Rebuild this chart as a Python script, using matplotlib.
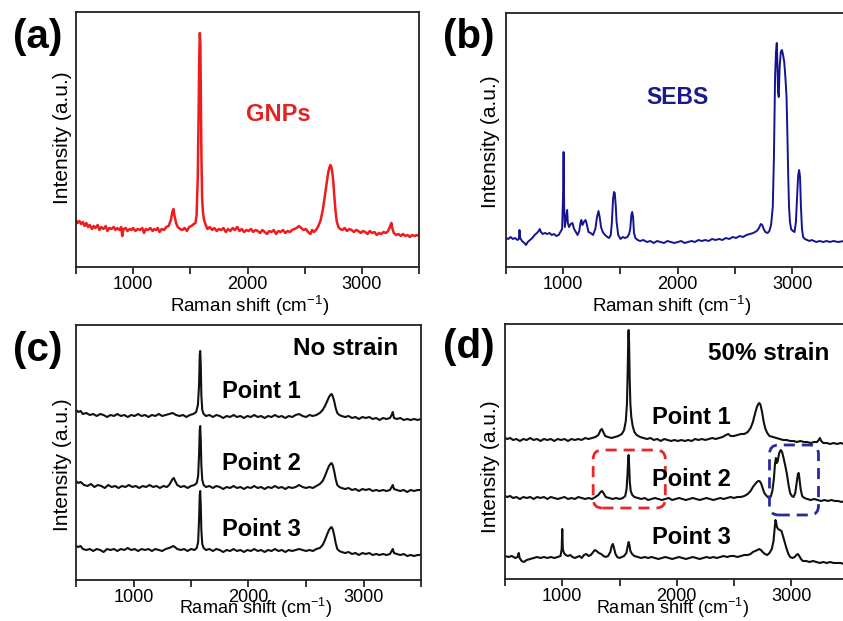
import matplotlib
matplotlib.use('Agg')
import matplotlib.pyplot as plt
from matplotlib.ticker import MultipleLocator
from matplotlib.patches import FancyBboxPatch
import numpy as np

plt.rcParams['font.family'] = ['Liberation Sans', 'DejaVu Sans']
plt.rcParams['mathtext.fontset'] = 'custom'
plt.rcParams['mathtext.rm'] = 'Liberation Sans'
plt.rcParams['mathtext.it'] = 'Liberation Sans'

# ---- data (Raman shift in cm-1, intensity in a.u.) ----
# (a) GNPs
gnp_x = [500, 515, 530, 545, 560, 575, 590, 605, 620, 640, 655, 670, 690, 705, 720, 740, 760, 775, 790, 810,
         830, 845, 860, 880, 895, 905, 915, 935, 950, 970, 985, 1000, 1020, 1040, 1060, 1080, 1095, 1110, 1130,
         1150, 1170, 1185, 1200, 1215, 1230, 1250, 1270, 1290, 1310, 1330, 1345, 1352, 1362, 1375, 1390, 1410,
         1430, 1450, 1470, 1490, 1510, 1530, 1545, 1555, 1565, 1572, 1578, 1583, 1588, 1592, 1597, 1603, 1610,
         1620, 1635, 1650, 1670, 1690, 1710, 1730, 1750, 1770, 1790, 1810, 1830, 1850, 1870, 1890, 1910, 1930,
         1950, 1970, 1990, 2010, 2030, 2050, 2070, 2090, 2110, 2130, 2150, 2170, 2190, 2210, 2230, 2250, 2270,
         2290, 2310, 2330, 2350, 2370, 2390, 2410, 2430, 2450, 2470, 2490, 2510, 2530, 2550, 2565, 2580, 2600,
         2620, 2640, 2660, 2675, 2690, 2705, 2715, 2725, 2733, 2740, 2750, 2760, 2770, 2780, 2795, 2810, 2830,
         2850, 2870, 2890, 2910, 2930, 2950, 2970, 2990, 3010, 3030, 3050, 3070, 3090, 3110, 3130, 3150, 3170,
         3190, 3210, 3230, 3245, 3258, 3268, 3280, 3300, 3320, 3340, 3360, 3380, 3400, 3420, 3440, 3460, 3480, 3500]
gnp_y = [47, 44, 46, 43, 45, 41, 44, 40, 42, 38, 41, 39, 42, 37, 40, 38, 41, 36, 39, 38,
         40, 37, 39, 37, 40, 31, 38, 39, 36, 38, 37, 39, 36, 38, 37, 39, 34, 38, 37,
         39, 36, 38, 37, 39, 35, 38, 37, 40, 41, 47, 56, 58, 51, 44, 40, 38,
         37, 39, 36, 40, 41, 43, 44, 52, 90, 150, 210, 234, 222, 170, 110, 70, 55,
         47, 42, 38, 40, 37, 39, 36, 38, 37, 39, 35, 38, 36, 39, 37, 40, 36,
         38, 35, 37, 36, 38, 35, 37, 36, 34, 37, 35, 33, 36, 35, 37, 33, 36,
         35, 37, 34, 36, 35, 37, 38, 39, 41, 39, 37, 38, 35, 33, 37, 35, 37,
         41, 47, 58, 70, 82, 94, 99, 102, 100, 96, 86, 70, 56, 46, 40, 38, 37,
         39, 36, 38, 37, 35, 37, 36, 34, 36, 35, 33, 36, 34, 35, 32, 34, 33,
         35, 34, 36, 40, 44, 38, 34, 32, 33, 31, 33, 31, 32, 30, 32, 31, 32, 31]

# (b) SEBS
sebs_x = [500, 520, 540, 560, 580, 600, 612, 618, 624, 640, 660, 675, 690, 710, 730, 750, 770, 785, 795, 805,
          820, 840, 860, 880, 900, 920, 940, 960, 975, 990, 998, 1003, 1008, 1014, 1020, 1028, 1034, 1040, 1050,
          1065, 1080, 1095, 1110, 1125, 1140, 1150, 1158, 1168, 1180, 1195, 1205, 1220, 1240, 1260, 1280, 1295,
          1308, 1318, 1330, 1345, 1365, 1385, 1400, 1415, 1425, 1435, 1443, 1450, 1458, 1466, 1480, 1500, 1520,
          1540, 1560, 1575, 1585, 1595, 1602, 1610, 1618, 1630, 1650, 1670, 1700, 1730, 1760, 1790, 1820, 1850,
          1880, 1910, 1940, 1970, 2000, 2030, 2060, 2090, 2120, 2150, 2180, 2210, 2240, 2270, 2300, 2330, 2360,
          2390, 2420, 2450, 2480, 2510, 2540, 2570, 2600, 2630, 2660, 2690, 2710, 2725, 2738, 2750, 2765, 2785,
          2800, 2815, 2830, 2840, 2850, 2858, 2865, 2870, 2876, 2882, 2890, 2900, 2910, 2920, 2930, 2940, 2950,
          2958, 2965, 2972, 2980, 2990, 3005, 3020, 3032, 3042, 3052, 3060, 3068, 3076, 3085, 3095, 3110, 3130,
          3150, 3170, 3190, 3210, 3240, 3270, 3300, 3330, 3360, 3400, 3450, 3500]
sebs_y = [29, 28, 30, 28, 29, 27, 28, 37, 29, 26, 24, 22, 25, 27, 29, 32, 34, 36, 38, 35,
          33, 34, 33, 34, 32, 33, 31, 32, 35, 38, 70, 115, 60, 40, 45, 52, 57, 44, 40,
          43, 44, 38, 35, 32, 36, 44, 47, 42, 45, 47, 43, 35, 34, 32, 38, 50,
          56, 50, 40, 35, 32, 30, 29, 32, 45, 68, 75, 74, 62, 45, 32, 28, 30,
          29, 30, 33, 38, 52, 55, 50, 34, 29, 27, 26, 27, 25, 26, 24, 26, 25,
          24, 26, 25, 24, 25, 26, 24, 25, 26, 25, 27, 26, 27, 26, 28, 27, 28,
          27, 29, 28, 30, 29, 31, 30, 32, 33, 34, 36, 39, 43, 42, 38, 35, 34,
          36, 42, 60, 110, 190, 215, 224, 205, 175, 170, 200, 215, 217, 212, 205, 190, 170,
          130, 90, 60, 45, 38, 36, 35, 45, 70, 92, 97, 90, 60, 38, 30, 28, 27,
          26, 27, 26, 25, 26, 25, 26, 25, 26, 25, 26, 25]

# (c) no strain, points 1-3
c1_x = [500, 520, 540, 560, 590, 620, 650, 680, 710, 740, 770, 800, 830, 860, 890, 920, 950, 980, 1010, 1040,
        1070, 1100, 1130, 1160, 1190, 1220, 1250, 1280, 1310, 1340, 1370, 1400, 1430, 1460, 1490, 1520, 1545,
        1560, 1570, 1576, 1580, 1585, 1590, 1598, 1610, 1630, 1660, 1690, 1720, 1750, 1780, 1810, 1840, 1870,
        1900, 1930, 1960, 1990, 2020, 2050, 2080, 2110, 2140, 2170, 2200, 2230, 2260, 2290, 2320, 2350, 2380,
        2410, 2440, 2470, 2500, 2530, 2560, 2590, 2620, 2645, 2665, 2685, 2700, 2712, 2722, 2732, 2745, 2758,
        2772, 2790, 2810, 2840, 2870, 2900, 2930, 2960, 2990, 3020, 3050, 3080, 3110, 3140, 3170, 3200, 3230,
        3245, 3255, 3265, 3290, 3320, 3350, 3380, 3410, 3440, 3470, 3500]
c1_y = [170, 168, 169, 166, 167, 165, 166, 164, 166, 165, 163, 165, 164, 166, 164, 165, 163, 165, 164, 166,
        164, 165, 163, 165, 164, 166, 164, 165, 166, 167, 165, 164, 165, 163, 165, 166, 168,
        175, 195, 225, 229, 215, 185, 170, 166, 164, 165, 163, 165, 164, 162, 164, 163, 165,
        163, 164, 162, 164, 163, 165, 163, 164, 162, 164, 163, 165, 163, 164, 162, 164, 163,
        165, 166, 164, 163, 165, 164, 165, 167, 170, 174, 179, 183, 185, 186, 184, 179, 172,
        167, 165, 164, 163, 164, 162, 163, 161, 163, 162, 163, 161, 162, 160, 162, 161, 162,
        165, 168, 162, 161, 162, 160, 161, 160, 161, 160, 161]
c2_x = [500, 520, 540, 570, 600, 630, 660, 690, 720, 750, 780, 810, 840, 870, 900, 930, 960, 990, 1020, 1050,
        1080, 1110, 1140, 1170, 1200, 1230, 1260, 1290, 1310, 1325, 1340, 1350, 1362, 1380, 1410, 1440, 1470,
        1500, 1530, 1550, 1562, 1570, 1576, 1580, 1585, 1590, 1598, 1610, 1630, 1660, 1690, 1720, 1750, 1780,
        1810, 1840, 1870, 1900, 1930, 1960, 1990, 2020, 2050, 2080, 2110, 2140, 2170, 2200, 2230, 2260, 2290,
        2320, 2350, 2380, 2410, 2440, 2470, 2500, 2530, 2560, 2590, 2620, 2645, 2665, 2685, 2700, 2712, 2722,
        2732, 2745, 2758, 2772, 2790, 2810, 2840, 2870, 2900, 2930, 2960, 2990, 3020, 3050, 3080, 3110, 3140,
        3170, 3200, 3230, 3245, 3255, 3265, 3290, 3320, 3350, 3380, 3410, 3440, 3470, 3500]
c2_y = [99, 97, 98, 95, 94, 96, 93, 95, 94, 92, 95, 93, 94, 92, 94, 93, 95, 93, 94, 92,
        94, 93, 95, 93, 94, 92, 94, 93, 95, 98, 101, 102, 99, 95, 93, 94, 92,
        94, 95, 97, 104, 125, 150, 154, 140, 115, 100, 95, 93, 94, 92, 94, 93, 91,
        93, 92, 94, 92, 93, 91, 93, 92, 94, 92, 93, 91, 93, 92, 94, 92, 93,
        91, 93, 92, 93, 95, 93, 92, 93, 92, 94, 96, 99, 104, 110, 114, 116, 117,
        115, 109, 101, 95, 93, 92, 91, 92, 90, 91, 89, 91, 90, 91, 89, 90, 89,
        90, 89, 90, 93, 95, 91, 90, 89, 90, 88, 90, 89, 90, 90]
c3_x = [500, 520, 540, 560, 590, 620, 650, 680, 710, 740, 770, 800, 830, 860, 890, 920, 950, 980, 1010, 1040,
        1070, 1100, 1130, 1160, 1190, 1220, 1250, 1280, 1310, 1330, 1345, 1360, 1380, 1410, 1440, 1470, 1500,
        1530, 1550, 1562, 1570, 1576, 1580, 1585, 1590, 1598, 1610, 1630, 1660, 1690, 1720, 1750, 1780, 1810,
        1840, 1870, 1900, 1930, 1960, 1990, 2020, 2050, 2080, 2110, 2140, 2170, 2200, 2230, 2260, 2290, 2320,
        2350, 2380, 2410, 2440, 2470, 2500, 2530, 2560, 2590, 2620, 2645, 2665, 2685, 2700, 2712, 2722, 2732,
        2745, 2758, 2772, 2790, 2810, 2840, 2870, 2900, 2930, 2960, 2990, 3020, 3050, 3080, 3110, 3140, 3170,
        3200, 3230, 3245, 3255, 3265, 3290, 3320, 3350, 3380, 3410, 3440, 3470, 3500]
c3_y = [34, 33, 34, 31, 30, 31, 29, 31, 30, 28, 31, 30, 31, 29, 31, 30, 32, 30, 31, 29,
        31, 30, 31, 29, 31, 30, 29, 31, 32, 33, 34, 33, 31, 30, 31, 29, 31,
        30, 32, 38, 60, 85, 89, 75, 50, 36, 32, 30, 31, 29, 31, 30, 28, 30,
        29, 31, 29, 30, 28, 30, 29, 31, 29, 30, 28, 30, 29, 31, 29, 30, 28,
        30, 29, 30, 31, 30, 29, 30, 29, 31, 32, 35, 40, 46, 50, 52, 53, 51,
        45, 37, 31, 29, 28, 27, 28, 26, 27, 25, 27, 26, 27, 25, 26, 25, 26,
        25, 26, 29, 31, 27, 26, 25, 26, 24, 25, 24, 25, 25]

# (d) 50% strain, points 1-3
d1_x = [500, 520, 545, 570, 600, 630, 660, 690, 720, 750, 780, 810, 840, 870, 900, 930, 960, 990, 1020, 1050,
        1080, 1110, 1140, 1170, 1200, 1230, 1260, 1290, 1315, 1335, 1346, 1358, 1375, 1400, 1430, 1460, 1490,
        1520, 1540, 1555, 1565, 1572, 1577, 1580, 1584, 1589, 1595, 1603, 1615, 1630, 1650, 1680, 1710, 1740,
        1770, 1800, 1830, 1860, 1890, 1920, 1950, 1980, 2010, 2040, 2070, 2100, 2130, 2160, 2190, 2220, 2250,
        2280, 2310, 2340, 2370, 2400, 2430, 2450, 2470, 2500, 2530, 2560, 2590, 2620, 2645, 2665, 2685, 2700,
        2712, 2722, 2732, 2745, 2758, 2772, 2790, 2810, 2840, 2870, 2900, 2930, 2960, 2990, 3020, 3050, 3080,
        3110, 3140, 3170, 3200, 3225, 3240, 3250, 3262, 3280, 3310, 3340, 3370, 3400, 3430, 3460, 3500]
d1_y = [141, 140, 141, 139, 140, 138, 140, 139, 141, 139, 140, 138, 140, 139, 140, 138, 140, 139, 140, 138,
        140, 139, 140, 139, 141, 140, 141, 142, 144, 149, 150, 147, 143, 142, 141, 142, 143,
        145, 149, 158, 175, 210, 245, 249, 235, 200, 175, 162, 153, 147, 144, 142, 141, 140,
        141, 139, 140, 138, 140, 139, 138, 139, 138, 139, 138, 139, 138, 140, 139, 140, 139,
        140, 141, 140, 141, 142, 144, 145, 143, 143, 144, 145, 145, 147, 151, 157, 166, 172,
        175, 176, 174, 167, 158, 151, 146, 143, 142, 141, 140, 139, 139, 138, 138, 137, 138,
        137, 137, 136, 137, 137, 139, 141, 138, 136, 136, 135, 136, 135, 136, 135, 135]
d2_x = [500, 520, 545, 570, 600, 630, 660, 690, 720, 750, 780, 810, 840, 870, 900, 930, 960, 990, 1020, 1050,
        1080, 1110, 1140, 1170, 1200, 1230, 1260, 1290, 1315, 1335, 1347, 1360, 1380, 1410, 1440, 1470, 1500,
        1530, 1550, 1562, 1570, 1576, 1580, 1585, 1590, 1598, 1612, 1630, 1660, 1690, 1720, 1750, 1780, 1810,
        1840, 1870, 1900, 1930, 1960, 1990, 2020, 2050, 2080, 2110, 2140, 2170, 2200, 2230, 2260, 2290, 2320,
        2350, 2380, 2410, 2440, 2470, 2500, 2530, 2560, 2590, 2620, 2645, 2665, 2685, 2700, 2712, 2722, 2735,
        2750, 2765, 2785, 2805, 2820, 2835, 2848, 2858, 2866, 2874, 2882, 2895, 2908, 2920, 2935, 2950, 2962,
        2975, 2990, 3005, 3020, 3035, 3048, 3058, 3065, 3072, 3082, 3095, 3115, 3140, 3170, 3200, 3230, 3260,
        3290, 3320, 3350, 3380, 3410, 3440, 3470, 3500]
d2_y = [83, 82, 83, 81, 82, 80, 82, 81, 82, 80, 82, 81, 82, 80, 82, 81, 80, 81, 82, 80,
        81, 80, 82, 81, 80, 81, 80, 82, 84, 87, 88, 86, 82, 81, 80, 81, 80,
        81, 83, 90, 105, 120, 124, 112, 97, 88, 84, 82, 81, 80, 81, 79, 80, 81,
        80, 79, 80, 81, 79, 80, 81, 80, 79, 80, 81, 80, 79, 80, 81, 80, 79,
        80, 81, 80, 81, 82, 81, 82, 82, 83, 85, 88, 92, 95, 97, 98, 98, 96,
        91, 86, 83, 81, 82, 88, 100, 115, 121, 116, 118, 126, 129, 127, 120, 112, 105,
        95, 86, 83, 82, 86, 97, 105, 106, 100, 90, 83, 81, 80, 79, 80, 79, 78,
        79, 78, 79, 78, 78, 77, 78, 78]
d3_x = [500, 530, 560, 590, 610, 620, 628, 645, 665, 690, 720, 750, 780, 810, 840, 870, 900, 930, 960, 985,
        995, 1000, 1005, 1015, 1030, 1050, 1070, 1090, 1110, 1130, 1150, 1170, 1190, 1210, 1230, 1250, 1270,
        1285, 1300, 1320, 1340, 1360, 1380, 1400, 1420, 1432, 1442, 1452, 1465, 1480, 1500, 1520, 1540, 1560,
        1572, 1580, 1587, 1595, 1610, 1630, 1660, 1690, 1720, 1750, 1780, 1810, 1840, 1870, 1900, 1930, 1960,
        1990, 2020, 2050, 2080, 2110, 2140, 2170, 2200, 2230, 2260, 2290, 2320, 2350, 2380, 2410, 2440, 2470,
        2500, 2530, 2560, 2590, 2620, 2645, 2665, 2685, 2705, 2720, 2735, 2750, 2770, 2790, 2810, 2830, 2845,
        2855, 2862, 2868, 2875, 2885, 2900, 2915, 2930, 2945, 2960, 2975, 2990, 3010, 3030, 3045, 3058, 3070,
        3085, 3100, 3130, 3160, 3190, 3220, 3250, 3280, 3310, 3340, 3370, 3400, 3430, 3460, 3500]
d3_y = [23, 22, 23, 21, 22, 26, 21, 18, 17, 19, 20, 21, 22, 21, 22, 21, 22, 21, 22, 23,
        30, 50, 30, 26, 24, 23, 24, 22, 21, 22, 23, 21, 24, 25, 23, 24, 27,
        29, 28, 26, 25, 23, 22, 23, 27, 33, 35, 31, 25, 22, 21, 22, 23, 26,
        33, 37, 34, 28, 25, 23, 22, 21, 22, 21, 22, 21, 20, 21, 22, 21, 20,
        21, 22, 21, 20, 21, 22, 21, 20, 21, 22, 21, 22, 21, 22, 23, 22, 23,
        23, 22, 23, 24, 24, 25, 27, 28, 29, 30, 29, 27, 25, 24, 26, 30, 38,
        50, 59, 57, 52, 50, 49, 48, 42, 36, 30, 25, 22, 21, 22, 24, 25, 23,
        20, 18, 18, 17, 18, 17, 16, 17, 16, 17, 16, 16, 16, 15, 16]

W, H = 843, 621
fig = plt.figure(figsize=(W / 100, H / 100), dpi=100)


def fx(x):
    return x / W


def fy(y):
    return 1 - y / H


def setup(ax, ymax):
    ax.set_xlim(500, 3500)
    ax.set_ylim(0, ymax)
    ax.xaxis.set_major_locator(MultipleLocator(1000))
    ax.xaxis.set_minor_locator(MultipleLocator(500))
    ax.set_yticks([])
    ax.tick_params(axis='x', which='both', direction='out', length=5, width=1.1,
                   labelsize=13, pad=1.5, top=False)
    for s in ax.spines.values():
        s.set_linewidth(1.3)
        s.set_color('#222222')


# axes rectangles from the pixel frame of the reference
ax_a = fig.add_axes([fx(76), fy(267), fx(343), 255 / H])
ax_b = fig.add_axes([fx(506), fy(267), fx(343.5), 254 / H])
ax_c = fig.add_axes([fx(76), fy(580), fx(345), 255 / H])
ax_d = fig.add_axes([fx(505), fy(579), fx(343.5), 255 / H])

setup(ax_a, 255)
setup(ax_b, 254)
setup(ax_c, 255)
setup(ax_d, 255)

ax_a.plot(gnp_x, gnp_y, color='#ee1c1c', lw=1.8)
ax_b.plot(sebs_x, sebs_y, color='#141490', lw=1.4)
for xs, ys in [(c1_x, c1_y), (c2_x, c2_y), (c3_x, c3_y)]:
    ax_c.plot(xs, ys, color='#111111', lw=1.5)
for xs, ys in [(d1_x, d1_y), (d2_x, d2_y), (d3_x, d3_y)]:
    ax_d.plot(xs, ys, color='#111111', lw=1.5)

# dashed highlight boxes in (d)
asp = 1 / 8.75
box_r = FancyBboxPatch((1270, 71), 630, 58, boxstyle='round,pad=0,rounding_size=80',
                       mutation_aspect=asp, fill=False, ec='#e8282a', lw=2.0,
                       ls=(0, (4, 2.5)), zorder=5)
box_b = FancyBboxPatch((2810, 64), 428, 70, boxstyle='round,pad=0,rounding_size=80',
                       mutation_aspect=asp, fill=False, ec='#2a2a9c', lw=2.0,
                       ls=(0, (4, 2.5)), zorder=5)
ax_d.add_patch(box_r)
ax_d.add_patch(box_b)

# panel letters
for lab, x, y in [('(a)', 38, 37), ('(b)', 469, 37), ('(c)', 38, 350), ('(d)', 469, 347)]:
    fig.text(fx(x), fy(y), lab, fontsize=29, fontweight='bold', ha='center', va='center')

# axis labels
xl = 'Raman shift (cm$^{-1}$)'
for x, y in [(250, 312), (672, 312)]:
    fig.text(fx(x), fy(y), xl, fontsize=13.5, ha='center', va='baseline')
for x, y in [(255, 620.5), (672, 620.5)]:
    fig.text(fx(x), fy(y), xl, fontsize=13, ha='center', va='bottom')
for x, y in [(63, 138), (490, 142), (63, 465), (490, 467)]:
    fig.text(fx(x), fy(y), 'Intensity (a.u.)', fontsize=15, rotation=90, ha='center', va='center')

# in-panel text
fig.text(fx(278), fy(115), 'GNPs', fontsize=17, fontweight='bold', color='#e52222',
         ha='center', va='center')
fig.text(fx(677), fy(98), 'SEBS', fontsize=16.5, fontweight='bold', color='#1a1a8a',
         ha='center', va='center')
fig.text(fx(346), fy(348), 'No strain', fontsize=17.5, fontweight='bold', ha='center', va='center')
fig.text(fx(769), fy(353), '50% strain', fontsize=17.5, fontweight='bold', ha='center', va='center')
for lab, y in [('Point 1', 392), ('Point 2', 463), ('Point 3', 530)]:
    fig.text(fx(222), fy(y), lab, fontsize=17, fontweight='bold', ha='left', va='center')
for lab, y in [('Point 1', 418), ('Point 2', 480), ('Point 3', 538)]:
    fig.text(fx(652), fy(y), lab, fontsize=17, fontweight='bold', ha='left', va='center')

fig.savefig('out.png', dpi=100)
